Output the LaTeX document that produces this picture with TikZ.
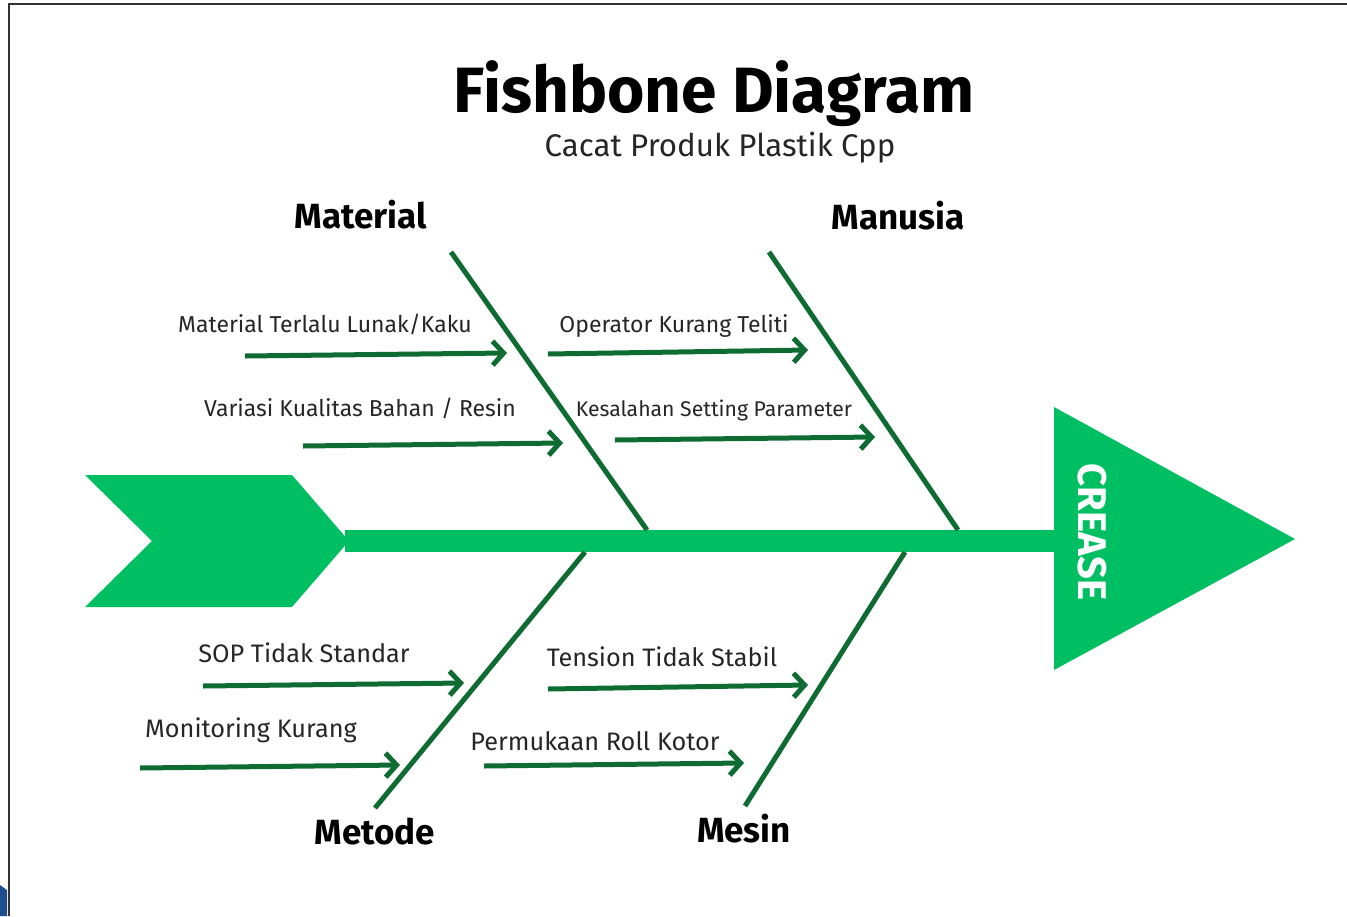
\documentclass[tikz,border=0pt]{standalone}
\usepackage{fontspec}
\setmainfont{Fira Sans}
\usetikzlibrary{arrows.meta}
\definecolor{brightgreen}{HTML}{00BF63}
\definecolor{bonegreen}{HTML}{0E6B32}
\definecolor{framegray}{HTML}{333333}
\definecolor{cornerblue}{HTML}{1F4E8C}
\tikzset{
  bone/.style={draw=bonegreen, line width=5pt},
  cause/.style={draw=bonegreen, line width=5pt, -{Straight Barb[length=11pt,width=24pt,line width=5pt]}},
  causelabel/.style={anchor=base, inner sep=0pt, font=\fontsize{23}{25}\selectfont, text=black!85},
  lowlabel/.style={causelabel, font=\fontsize{25.3}{27}\selectfont},
  catlabel/.style={anchor=base, inner sep=0pt, font=\fontsize{35}{38}\selectfont\bfseries, text=black},
}
\begin{document}
\begin{tikzpicture}[x=1pt,y=-1pt]
\useasboundingbox (0,0) rectangle (1347,916);
\fill[white] (0,0) rectangle (1347,916);
% frame
\draw[framegray, line width=2.5pt] (9,916) -- (9,4) -- (1347,4);
\fill[cornerblue] (0,885) .. controls (4,887) .. (7,890) -- (7,916) -- (0,916) -- cycle;
% titles
\node[anchor=base, inner sep=0pt, font=\fontsize{64}{70}\selectfont\bfseries] (title) at (714,112) {Fishbone Diagram};
\node[anchor=base, inner sep=0pt, font=\fontsize{31.3}{34}\selectfont, text=black!85] (subtitle) at (720,156) {Cacat Produk Plastik Cpp};
% spine, tail, head
\fill[brightgreen] (345,530) rectangle (1056,552);
\fill[brightgreen] (85,475) -- (292,475) -- (349,541) -- (292,607) -- (85,607) -- (152,541) -- cycle;
\fill[brightgreen] (1054,407) -- (1295,539) -- (1054,670) -- cycle;
\node[rotate=-90, inner sep=0pt, text=white, font=\fontsize{40}{42}\selectfont\bfseries] (crease) at (1092,532) {CREASE};
% bone coordinates
\coordinate (matA) at (451,252); \coordinate (matB) at (647,530);
\coordinate (manA) at (769,252); \coordinate (manB) at (958,530);
\coordinate (metA) at (585,552); \coordinate (metB) at (375,808);
\coordinate (mesA) at (905,552); \coordinate (mesB) at (745,806);
\draw[bone] (matA) -- (matB);
\draw[bone] (manA) -- (manB);
\draw[bone] (metA) -- (metB);
\draw[bone] (mesA) -- (mesB);
% category labels
\node[catlabel] (material) at (361,228) {Material};
\node[catlabel] (manusia) at (898,229) {Manusia};
\node[catlabel] (metode) at (375,844) {Metode};
\node[catlabel] (mesin) at (744,842) {Mesin};
% cause arrows
\coordinate (c1s) at (245,356); \coordinate (c1e) at (507,353);
\coordinate (c2s) at (303,446); \coordinate (c2e) at (563,443);
\coordinate (c3s) at (548,354); \coordinate (c3e) at (808,350);
\coordinate (c4s) at (615,440); \coordinate (c4e) at (875,437);
\coordinate (c5s) at (203,686); \coordinate (c5e) at (464,683);
\coordinate (c6s) at (140,768); \coordinate (c6e) at (400,765);
\coordinate (c7s) at (548,689); \coordinate (c7e) at (808,685);
\coordinate (c8s) at (484,766); \coordinate (c8e) at (744,763);
\draw[cause] (c1s) -- (c1e);
\draw[cause] (c2s) -- (c2e);
\draw[cause] (c3s) -- (c3e);
\draw[cause] (c4s) -- (c4e);
\draw[cause] (c5s) -- (c5e);
\draw[cause] (c6s) -- (c6e);
\draw[cause] (c7s) -- (c7e);
\draw[cause] (c8s) -- (c8e);
% cause labels
\node[causelabel] (l1) at (325,332) {Material Terlalu Lunak/Kaku};
\node[causelabel] (l2) at (360,416) {Variasi Kualitas Bahan / Resin};
\node[causelabel] (l3) at (674,332) {Operator Kurang Teliti};
\node[causelabel, font=\fontsize{21.2}{23}\selectfont] (l4) at (714,416) {Kesalahan Setting Parameter};
\node[lowlabel] (l5) at (304,662) {SOP Tidak Standar};
\node[lowlabel] (l6) at (251,737) {Monitoring Kurang};
\node[lowlabel] (l7) at (662,666) {Tension Tidak Stabil};
\node[lowlabel] (l8) at (595,750) {Permukaan Roll Kotor};
\end{tikzpicture}
\end{document}
